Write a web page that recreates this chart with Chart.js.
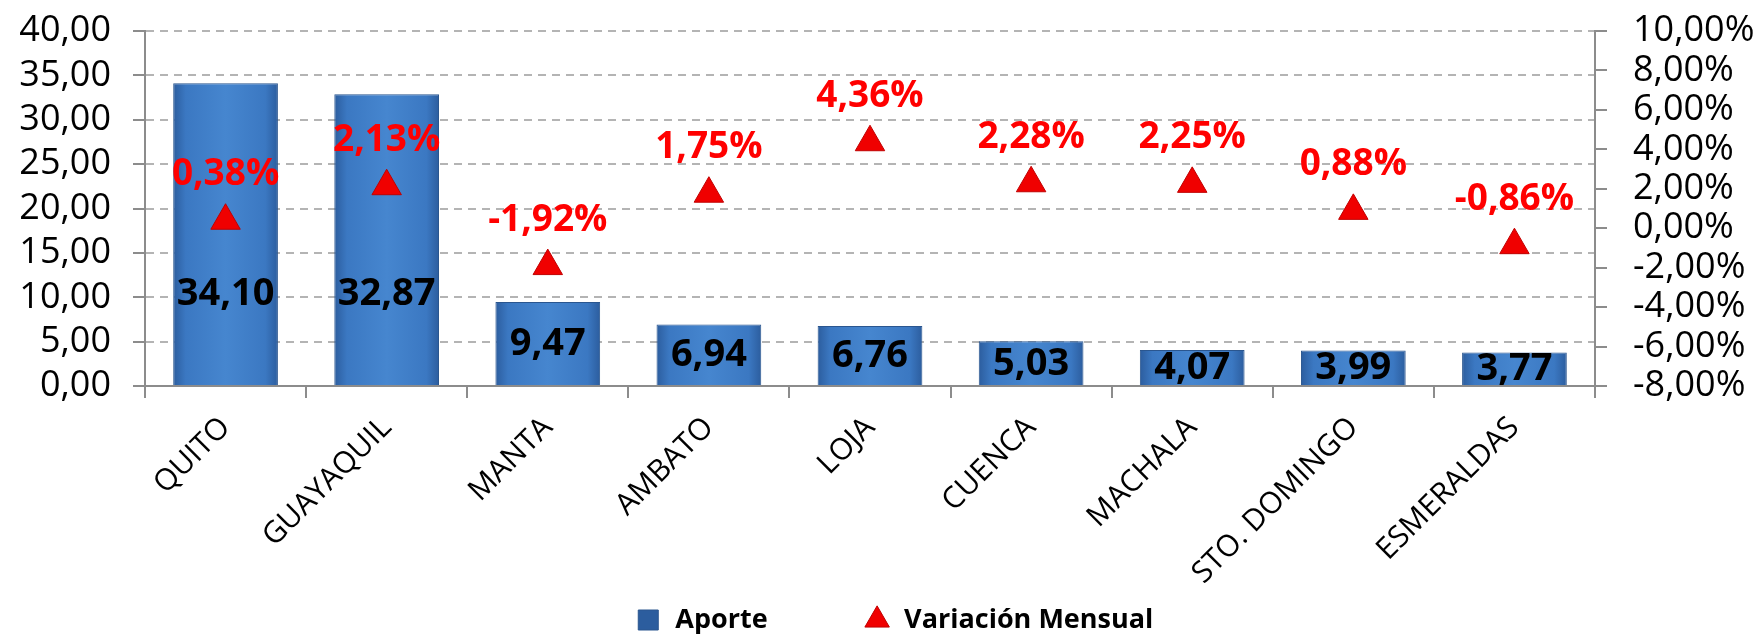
<!DOCTYPE html>
<html>
<head>
<meta charset="utf-8">
<script src="https://cdn.jsdelivr.net/npm/chart.js@4/dist/chart.umd.min.js"></script>
<style>
  html, body { margin: 0; padding: 0; background: #fff; }
  canvas { display: block; }
</style>
</head>
<body>
<canvas id="aporteChart" width="1760" height="637"></canvas>
<script>
// Data
const cities = ['QUITO', 'GUAYAQUIL', 'MANTA', 'AMBATO', 'LOJA', 'CUENCA', 'MACHALA', 'STO. DOMINGO', 'ESMERALDAS'];
const aporte = [34.10, 32.87, 9.47, 6.94, 6.76, 5.03, 4.07, 3.99, 3.77];
const variacion = [0.38, 2.13, -1.92, 1.75, 4.36, 2.28, 2.25, 0.88, -0.86];

const FONT = "'Open Sans', 'DejaVu Sans', sans-serif";
const BAR_PCT = 0.65;
const LEGEND_PAD = 96;
const LEGEND_FONT = 27;

function fmt(v, digits) {
  return v.toFixed(digits).replace('.', ',');
}

/**
 * Horizontal gradient per bar to mimic the bevelled look
 */
function barGradient(context) {
  const chart = context.chart;
  const xScale = chart.scales.x;
  if (!chart.chartArea || !xScale || context.dataIndex === undefined) return '#3c7bc6';
  const cx = xScale.getPixelForValue(context.dataIndex);
  const half = (xScale.width / cities.length) * BAR_PCT / 2;
  const g = chart.ctx.createLinearGradient(cx - half, 0, cx + half, 0);
  g.addColorStop(0, '#2c5d9e');
  g.addColorStop(0.12, '#3b78c2');
  g.addColorStop(0.5, '#4686cf');
  g.addColorStop(0.88, '#3b78c2');
  g.addColorStop(1, '#2c5d9e');
  return g;
}

// Draws the value labels on bars and the percentages above the triangles
const valueLabels = {
  id: 'valueLabels',
  afterDatasetsDraw(chart) {
    const ctx = chart.ctx;
    const x = chart.scales.x;
    const y = chart.scales.y;
    const y1 = chart.scales.y1;
    ctx.save();
    ctx.textAlign = 'center';
    ctx.textBaseline = 'middle';

    ctx.font = 'bold 38px ' + FONT;
    ctx.fillStyle = '#000';
    aporte.forEach((v, i) => {
      ctx.fillText(fmt(v, 2), x.getPixelForValue(i), y.getPixelForValue(Math.min(v / 2, 10.3)));
    });

    ctx.font = 'bold 37px ' + FONT;
    ctx.fillStyle = '#ff0000';
    variacion.forEach((v, i) => {
      ctx.fillText(fmt(v, 2) + '%', x.getPixelForValue(i), y1.getPixelForValue(v) - 46);
    });
    ctx.restore();
  }
};

// Let the rotated category labels run behind the legend, as in the original
const legendPlace = {
  id: 'legendPlace',
  afterInit(chart) {
    const lg = chart.legend;
    const fit = lg.fit;
    lg.fit = function () {
      fit.call(this);
      this.height = 0;
    };
  },
  afterLayout(chart) {
    const lg = chart.legend;
    lg.top = 620 - LEGEND_PAD - LEGEND_FONT / 2;
    lg.bottom = chart.height;
    lg.height = lg.bottom - lg.top;
    lg.left = 14;
    lg.right = chart.width + 14;
  }
};

new Chart(document.getElementById('aporteChart'), {
  data: {
    labels: cities,
    datasets: [
      {
        type: 'line',
        label: 'Variación Mensual',
        data: variacion,
        yAxisID: 'y1',
        showLine: false,
        pointStyle: 'triangle',
        pointRadius: 17,
        pointBackgroundColor: '#f00000',
        pointBorderColor: '#c00000',
        pointBorderWidth: 1,
        backgroundColor: '#e00000',
        borderColor: '#c00000'
      },
      {
        type: 'bar',
        label: 'Aporte',
        data: aporte,
        yAxisID: 'y',
        backgroundColor: barGradient,
        borderColor: '#2a568f',
        borderWidth: 1,
        barPercentage: BAR_PCT,
        categoryPercentage: 1,
        pointStyle: 'rect'
      }
    ]
  },
  options: {
    responsive: false,
    animation: false,
    layout: { padding: 0 },
    plugins: {
      tooltip: { enabled: false },
      legend: {
        position: 'bottom',
        labels: {
          usePointStyle: true,
          boxHeight: 20,
          padding: LEGEND_PAD,
          color: '#000',
          font: { family: FONT, size: LEGEND_FONT, weight: 'bold' },
          sort: (a, b) => b.datasetIndex - a.datasetIndex
        }
      }
    },
    scales: {
      x: {
        offset: true,
        grid: {
          offset: true,
          drawOnChartArea: false,
          tickLength: 12,
          color: '#8c8c8c',
          lineWidth: 2
        },
        border: { color: '#8c8c8c', width: 2 },
        ticks: {
          color: '#000',
          font: { family: FONT, size: 30 },
          minRotation: 45,
          maxRotation: 45,
          autoSkip: false,
          padding: 12
        },
        afterFit(scale) { scale.height = 251; }
      },
      y: {
        position: 'left',
        min: 0,
        max: 40,
        ticks: {
          stepSize: 5,
          autoSkip: false,
          color: '#000',
          padding: 22,
          font: { family: FONT, size: 36 },
          callback: v => fmt(v, 2)
        },
        grid: {
          color: '#b4b4b4',
          lineWidth: 2,
          tickBorderDash: [],
          tickColor: '#8c8c8c',
          tickLength: 12
        },
        border: { color: '#8c8c8c', width: 2, dash: [8, 6] },
        afterFit(scale) {
          scale.width = 145;
          scale.paddingTop = 31;
        }
      },
      y1: {
        position: 'right',
        min: -8,
        max: 10,
        ticks: {
          stepSize: 2,
          autoSkip: false,
          color: '#000',
          padding: 26,
          font: { family: FONT, size: 36 },
          callback: v => fmt(v, 2) + '%'
        },
        grid: {
          drawOnChartArea: false,
          color: '#8c8c8c',
          lineWidth: 2,
          tickLength: 12
        },
        border: { color: '#8c8c8c', width: 2 },
        afterFit(scale) {
          scale.width = 165;
          scale.paddingTop = 31;
        }
      }
    }
  },
  plugins: [valueLabels, legendPlace]
});
</script>
</body>
</html>
